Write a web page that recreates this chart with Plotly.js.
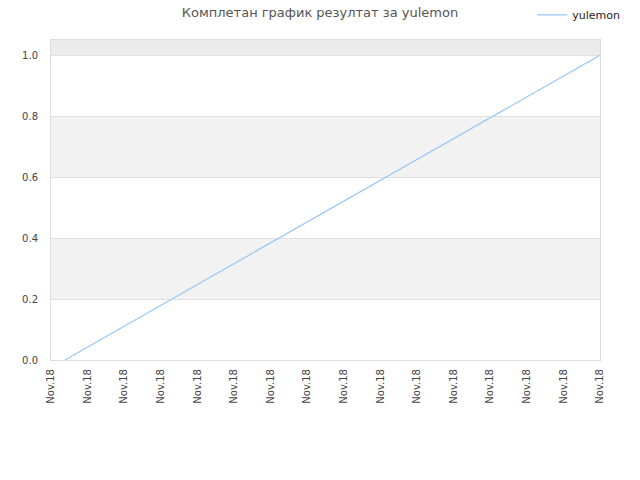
<!DOCTYPE html>
<html>
<head>
<meta charset="utf-8">
<script src="https://cdn.plot.ly/plotly-3.0.1.min.js"></script>
<style>
  html, body { margin: 0; padding: 0; background: #fff; }
  #chart { width: 640px; height: 480px; }
</style>
</head>
<body>
<div id="chart"></div>
<script>
// tick positions along x, all labelled with the same date
const tickPos = [0,1,2,3,4,5,6,7,8,9,10,11,12,13,14,15];
const tickLabels = tickPos.map(() => 'Nov.18');

// series values (x in tick units, y = score)
const seriesX = [0.38, 15];
const seriesY = [0, 1];

const bandFill = '#f2f2f2';
var bands = [[0.2, 0.4, bandFill], [0.6, 0.8, bandFill], [1.0, 1.05, '#ebebeb']];

var trace = [{
    type: 'scatter',
    mode: 'lines',
    name: 'yulemon',
    x: seriesX,
    y: seriesY,
    line: {color: '#99c7f5', width: 1.2}
}];

var layout = {
    width: 640,
    height: 480,
    margin: {l: 51, r: 40, t: 40, b: 120, autoexpand: false},
    paper_bgcolor: '#fff',
    plot_bgcolor: '#fff',
    font: {family: 'DejaVu Sans, sans-serif', size: 10, color: '#444'},
    title: {
        text: 'Комплетан график резултат за yulemon',
        font: {size: 13, color: '#555'},
        x: 0.5, xanchor: 'center', y: 0.975, yanchor: 'middle'
    },
    showlegend: true,
    legend: {
        x: 1.046, xanchor: 'right', y: 1.124, yanchor: 'top',
        font: {size: 11, color: '#222'},
        bgcolor: 'rgba(0,0,0,0)'
    },
    xaxis: {
        range: [0, 15],
        tickvals: tickPos,
        ticktext: tickLabels,
        tickangle: -90,
        ticklabelstandoff: 4,
        showgrid: false,
        zeroline: false,
        showline: true,
        linecolor: '#ddd',
        mirror: true,
        ticks: '',
        fixedrange: true
    },
    yaxis: {
        range: [0, 1.05],
        tickvals: [0, 0.2, 0.4, 0.6, 0.8, 1.0],
        tickformat: '.1f',
        ticklabelstandoff: 10,
        showgrid: true,
        gridcolor: '#e0e0e0',
        zeroline: false,
        showline: true,
        linecolor: '#ddd',
        mirror: true,
        ticks: '',
        fixedrange: true
    },
    shapes: bands.map(b => ({
        type: 'rect', xref: 'paper', yref: 'y',
        x0: 0, x1: 1, y0: b[0], y1: b[1],
        fillcolor: b[2], line: {width: 0}, layer: 'below'
    }))
};

Plotly.newPlot('chart', trace, layout, {displayModeBar: false, staticPlot: true});
</script>
</body>
</html>
